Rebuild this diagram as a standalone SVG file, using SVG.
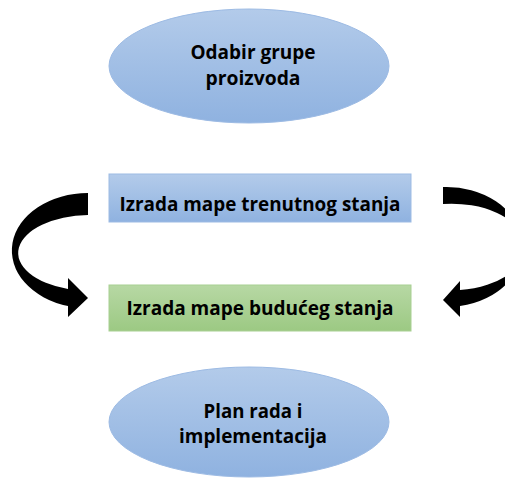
<svg xmlns="http://www.w3.org/2000/svg" width="505" height="478" viewBox="0 0 505 478">
  <defs>
    <linearGradient id="gBlue" x1="0" y1="0" x2="0" y2="1">
      <stop offset="0" stop-color="#b3cbea"/>
      <stop offset="1" stop-color="#8fb2e0"/>
    </linearGradient>
    <linearGradient id="gGreen" x1="0" y1="0" x2="0" y2="1">
      <stop offset="0" stop-color="#b7d8a4"/>
      <stop offset="1" stop-color="#9cc983"/>
    </linearGradient>
  </defs>
  <style>
    .blue { fill: url(#gBlue); stroke: #9dbbe4; stroke-width: 1; }
    .green { fill: url(#gGreen); stroke: #a8cf92; stroke-width: 1; }
    .lbl { font-family: "Open Sans", Lato, "Liberation Sans", sans-serif; font-weight: bold; font-size: 19.5px; fill: #000; text-anchor: middle; }
    .arrow { fill: #000; stroke: none; }
  </style>
  <rect width="505" height="478" fill="#ffffff"/>
  <g id="node-odabir">
    <ellipse class="blue" cx="249" cy="66" rx="140" ry="57"/>
    <text class="lbl" x="253" y="59" textLength="125" lengthAdjust="spacingAndGlyphs">Odabir grupe</text>
    <text class="lbl" x="253" y="85" textLength="95" lengthAdjust="spacingAndGlyphs">proizvoda</text>
  </g>
  <g id="node-trenutno">
    <rect class="blue" x="109" y="174" width="302" height="48"/>
    <text class="lbl" x="260" y="211" textLength="281" lengthAdjust="spacingAndGlyphs">Izrada mape trenutnog stanja</text>
  </g>
  <g id="node-buduce">
    <rect class="green" x="109" y="285" width="302" height="46"/>
    <text class="lbl" x="260" y="315" textLength="267" lengthAdjust="spacingAndGlyphs">Izrada mape budućeg stanja</text>
  </g>
  <g id="node-plan">
    <ellipse class="blue" cx="249" cy="422" rx="140" ry="55"/>
    <text class="lbl" x="253" y="418" textLength="99" lengthAdjust="spacingAndGlyphs">Plan rada i</text>
    <text class="lbl" x="253" y="443" textLength="148" lengthAdjust="spacingAndGlyphs">implementacija</text>
  </g>
  <g id="connectors">
    <path class="arrow" d="M 88,193 A 76,57.5 0 0 0 68,306 L 68,317 L 88,298 L 68,278 L 68,289 A 73,38 0 0 1 88,215 Z"/>
    <path class="arrow" d="M 443,187 A 76,60 0 0 1 460,306 L 460,317 L 443,300 L 460,281 L 460,290 A 73,43 0 0 0 443,204 Z"/>
  </g>
</svg>
